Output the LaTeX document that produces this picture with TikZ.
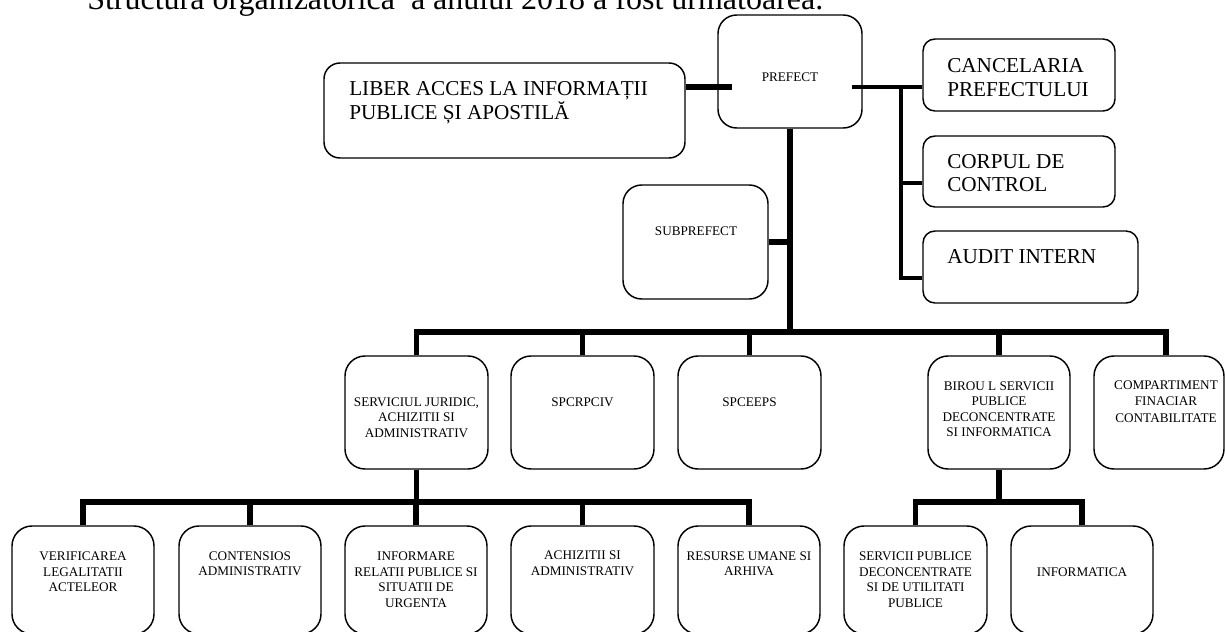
\documentclass[tikz,border=0pt]{standalone}
\usepackage{fontspec}
\setmainfont{Liberation Serif}
\usetikzlibrary{fit,calc}
\begin{document}
\begin{tikzpicture}[x=0.75pt,y=-0.75pt,
  box/.style={draw, line width=1.1pt, fill=white, inner sep=0pt},
  rbig/.style={rounded corners=14pt},
  rmid/.style={rounded corners=12pt},
  rsml/.style={rounded corners=9pt},
  rrow/.style={rounded corners=15pt},
  sm/.style={font=\fontsize{9.9pt}{11.6pt}\selectfont, align=center, inner sep=0pt},
  bg/.style={font=\fontsize{15.9pt}{18pt}\selectfont, align=left, inner sep=0pt, anchor=west},
  conn/.style={line width=4.1pt, line join=miter},
  connr/.style={line width=3pt, line join=miter}]
\useasboundingbox (0,0) rectangle (1225,632);
\fill[white] (0,0) rectangle (1225,632);
\clip (0,0) rectangle (1225,632);

% title (cut at the top edge)
\node[anchor=base west, inner sep=0pt, font=\fontsize{24pt}{28pt}\selectfont] (title) at (87,9.5)
  {Structura organizatorică\ \ a anului 2018 a fost următoarea.};

% boxes
\node[box, rbig, fit={(718,15)(862,128)}] (prefect) {};
\node[box, rmid, fit={(324,63)(685,158)}] (liber) {};
\node[box, rsml, fit={(923,39)(1115,111)}] (canc) {};
\node[box, rsml, fit={(923,136)(1115,207)}] (corp) {};
\node[box, rsml, fit={(923,231)(1138,303)}] (audit) {};
\node[box, rbig, fit={(623,185)(768,299)}] (subpref) {};

\node[box, rrow, fit={(345,356)(488,469)}] (serv) {};
\node[box, rrow, fit={(511,356)(654,469)}] (spcr) {};
\node[box, rrow, fit={(678,356)(821,469)}] (spce) {};
\node[box, rrow, fit={(928,356)(1070,469)}] (birou) {};
\node[box, rrow, fit={(1094,356)(1224,469)}] (comp) {};

\node[box, rrow, fit={(12,526)(154,634)}] (verif) {};
\node[box, rrow, fit={(179,526)(321,634)}] (cont) {};
\node[box, rrow, fit={(345,526)(487,634)}] (info) {};
\node[box, rrow, fit={(511,526)(654,634)}] (achiz) {};
\node[box, rrow, fit={(678,526)(820,634)}] (resurse) {};
\node[box, rrow, fit={(844,526)(987,634)}] (servpub) {};
\node[box, rrow, fit={(1011,526)(1153,634)}] (informatica) {};

% texts
\node[sm] (tprefect) at (790,77) {PREFECT};
\node[bg, font=\fontsize{15.9pt}{16.3pt}\selectfont] (tliber) at (349,102.8) {LIBER ACCES LA INFORMAȚII\\PUBLICE ȘI APOSTILĂ};
\node[bg] (tcanc) at (947,77.2) {CANCELARIA\\PREFECTULUI};
\node[bg, font=\fontsize{15.9pt}{17.25pt}\selectfont] (tcorp) at (947,172.7) {CORPUL DE\\CONTROL};
\node[bg] (taudit) at (947,256.7) {AUDIT INTERN};
\node[sm] (tsub) at (696,231) {SUBPREFECT};

\node[sm] (tserv) at (416.5,417.5) {SERVICIUL JURIDIC,\\ACHIZITII SI\\ADMINISTRATIV};
\node[sm] (tspcr) at (582.5,402) {SPCRPCIV};
\node[sm] (tspce) at (749.5,402) {SPCEEPS};
\node[sm] (tbirou) at (999,409) {BIROU L SERVICII\\PUBLICE\\DECONCENTRATE\\SI INFORMATICA};
\node[sm, font=\fontsize{9.9pt}{12.3pt}\selectfont] (tcomp) at (1166,401.5) {COMPARTIMENT\\FINACIAR\\CONTABILITATE};

\node[sm] (tverif) at (83,571.7) {VERIFICAREA\\LEGALITATII\\ACTELEOR};
\node[sm] (tcont) at (250,563.8) {CONTENSIOS\\ADMINISTRATIV};
\node[sm] (tinfo) at (416,579.5) {INFORMARE\\RELATII PUBLICE SI\\SITUATII DE\\URGENTA};
\node[sm] (tachiz) at (582.5,563) {ACHIZITII SI\\ADMINISTRATIV};
\node[sm] (tresurse) at (749,563.8) {RESURSE UMANE SI\\ARHIVA};
\node[sm] (tservpub) at (915.5,579.5) {SERVICII PUBLICE\\DECONCENTRATE\\SI DE UTILITATI\\PUBLICE};
\node[sm] (tinformatica) at (1082,572) {INFORMATICA};

% junction points
\coordinate (pl) at (732,87);
\coordinate (pr) at (852,87);
\coordinate (rc) at (901,87);
\coordinate (cb) at (901,183);
\coordinate (ab) at (901,278);
\coordinate (sb) at (790,242);
\coordinate (j0) at (790,332);
\coordinate (j1) at (416.5,502);
\coordinate (j2) at (999,502);

% connectors
\draw[conn] (liber.east |- pl) -- (pl);
\draw[connr] (pr) -- (canc.west |- pr);
\draw[connr] (rc) |- (corp.west |- cb);
\draw[connr] (rc) |- (audit.west |- ab);

\draw[conn] (prefect.south) -- (j0);
\draw[conn] (subpref.east |- sb) -- (sb);
\draw[conn] (serv.north) |- (j0);
\draw[conn] (spcr.north) |- (j0);
\draw[conn] (spce.north) |- (j0);
\draw[conn] (birou.north) |- (j0);
\draw[conn] (tcomp |- comp.north) |- (j0);

\draw[conn] (serv.south) -- (j1);
\draw[conn] (verif.north) |- (j1);
\draw[conn] (cont.north) |- (j1);
\draw[conn] (info.north) |- (j1);
\draw[conn] (achiz.north) |- (j1);
\draw[conn] (resurse.north) |- (j1);

\draw[conn] (birou.south) -- (j2);
\draw[conn] (servpub.north) |- (j2);
\draw[conn] (informatica.north) |- (j2);
\end{tikzpicture}
\end{document}
